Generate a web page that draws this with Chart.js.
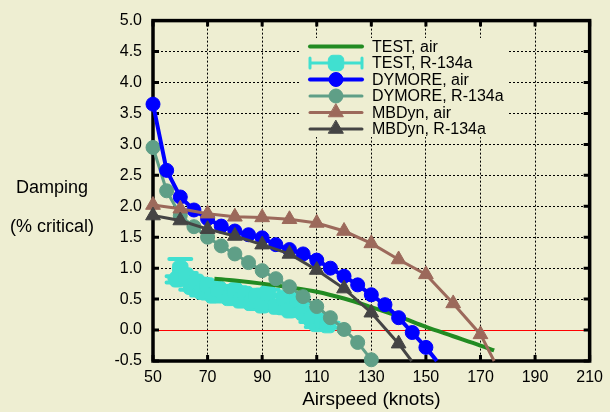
<!DOCTYPE html>
<html>
<head>
    <title>Damping vs Airspeed</title>
    <style>
        body {
            margin: 0;
            background: #eeeed2;
        }
        #chart-container {
            width: 610px;
            height: 412px;
        }
    </style>
</head>
<body>
    <script src="https://cdn.jsdelivr.net/npm/chart.js@4.4.1/dist/chart.umd.min.js"></script>
    <div id="chart-container">
        <canvas id="dampingChart"></canvas>
    </div>

    <script>
        // test data, air
        const testAirSpeed = [72.5, 80, 90, 100, 110, 120, 130, 140, 150, 160, 170, 175];
        const testAirDamping = [0.83, 0.80, 0.75, 0.69, 0.62, 0.51, 0.37, 0.22, 0.05, -0.10, -0.25, -0.33];

        // test data, R-134a (with damping error bars)
        const testR134aSpeed = [60, 59, 62, 64, 66, 68, 70, 72, 74, 76, 78, 80, 82, 84, 86, 88, 90, 92, 95, 98, 100, 103, 105, 108, 110, 112, 114];
        const testR134aDamping = [0.99, 0.82, 0.88, 0.70, 0.78, 0.62, 0.72, 0.56, 0.66, 0.60, 0.52, 0.64, 0.48, 0.58, 0.44, 0.55, 0.40, 0.60, 0.38, 0.52, 0.32, 0.48, 0.28, 0.18, 0.10, 0.15, 0.08];
        const testR134aError = [0.16, 0.05, 0.04, 0.05, 0.05, 0.06, 0.05, 0.05, 0.05, 0.05, 0.06, 0.05, 0.05, 0.05, 0.05, 0.05, 0.06, 0.05, 0.05, 0.05, 0.05, 0.05, 0.05, 0.05, 0.05, 0.05, 0.04];

        // DYMORE
        const dymoreAirSpeed = [50, 55, 60, 65, 70, 75, 80, 85, 90, 95, 100, 105, 110, 115, 120, 125, 130, 135, 140, 145, 150, 154];
        const dymoreAirDamping = [3.65, 2.58, 2.15, 1.94, 1.80, 1.68, 1.60, 1.54, 1.49, 1.38, 1.30, 1.23, 1.13, 1.00, 0.87, 0.73, 0.57, 0.41, 0.20, -0.04, -0.28, -0.5];
        const dymoreR134aSpeed = [50, 55, 60, 65, 70, 75, 80, 85, 90, 95, 100, 105, 110, 115, 120, 125, 130];
        const dymoreR134aDamping = [2.95, 2.25, 1.85, 1.67, 1.50, 1.36, 1.23, 1.09, 0.96, 0.83, 0.70, 0.54, 0.38, 0.20, 0.01, -0.20, -0.48];

        // MBDyn
        const mbdynAirSpeed = [50, 60, 70, 80, 90, 100, 110, 120, 130, 140, 150, 160, 170, 175];
        const mbdynAirDamping = [2.02, 1.96, 1.88, 1.83, 1.82, 1.79, 1.73, 1.60, 1.40, 1.14, 0.90, 0.43, -0.07, -0.5];
        const mbdynR134aSpeed = [50, 60, 70, 80, 90, 100, 110, 120, 130, 140, 144.8];
        const mbdynR134aDamping = [1.85, 1.77, 1.63, 1.52, 1.38, 1.23, 0.97, 0.67, 0.28, -0.22, -0.5];

        const seriesLabels = ['TEST, air', 'TEST, R-134a', 'DYMORE, air', 'DYMORE, R-134a', 'MBDyn, air', 'MBDyn, R-134a'];

        const BG = '#eeeed2';
        const FONT = '"Liberation Sans", Arial, sans-serif';
        Chart.defaults.font.family = FONT;
        Chart.defaults.color = '#000';

        function pts(xs, ys) {
            return xs.map((x, i) => ({ x: x, y: ys[i] }));
        }
        // no marker where the curve leaves the plot at the bottom
        function markerSize(r) {
            return ctx => (ctx.raw && ctx.raw.y <= -0.5) ? 0 : r;
        }

        const styles = [
            { color: '#228b22', width: 4, point: false },
            { color: '#40e0d0', width: 3, point: 'rectRounded', radius: 9, caps: true },
            { color: '#0000ff', width: 4, point: 'circle', radius: 7 },
            { color: '#5f9f87', width: 3, point: 'circle', radius: 7 },
            { color: '#9c695b', width: 3, point: 'triangle', radius: 8.5 },
            { color: '#444444', width: 3, point: 'triangle', radius: 8.5 }
        ];

        const isVal = (a, b) => Math.abs(a - b) < 1e-9;

        // background, box, inner ticks, zero line, error bars, legend box
        const decorations = {
            id: 'decorations',
            beforeDraw(chart) {
                const ctx = chart.ctx;
                ctx.save();
                ctx.fillStyle = BG;
                ctx.fillRect(0, 0, chart.width, chart.height);
                ctx.restore();
            },
            beforeDatasetsDraw(chart) {
                const { ctx, chartArea: a, scales: { x, y } } = chart;
                ctx.save();
                // legend background hides the grid
                ctx.fillStyle = BG;
                ctx.fillRect(301, 38, 207, 99);

                // zero line
                const y0 = Math.round(y.getPixelForValue(0)) + 0.5;
                ctx.strokeStyle = '#ff0000';
                ctx.lineWidth = 1;
                ctx.beginPath();
                ctx.moveTo(a.left, y0);
                ctx.lineTo(a.right, y0);
                ctx.stroke();

                // inner tick marks
                ctx.strokeStyle = '#000';
                ctx.lineWidth = 3;
                ctx.beginPath();
                x.ticks.forEach(t => {
                    const px = x.getPixelForValue(t.value);
                    ctx.moveTo(px, a.top); ctx.lineTo(px, a.top + 6);
                    ctx.moveTo(px, a.bottom); ctx.lineTo(px, a.bottom - 6);
                });
                y.ticks.forEach(t => {
                    const py = y.getPixelForValue(t.value);
                    ctx.moveTo(a.left, py); ctx.lineTo(a.left + 6, py);
                    ctx.moveTo(a.right, py); ctx.lineTo(a.right - 6, py);
                });
                ctx.stroke();

                // box
                ctx.lineWidth = 3.5;
                ctx.strokeRect(a.left, a.top, a.right - a.left, a.bottom - a.top);

                // error bars for the R-134a test points
                ctx.strokeStyle = styles[1].color;
                ctx.lineWidth = 4;
                ctx.lineCap = 'round';
                ctx.beginPath();
                testR134aSpeed.forEach((s, i) => {
                    const px = x.getPixelForValue(s);
                    const top = y.getPixelForValue(testR134aDamping[i] + testR134aError[i]);
                    const bot = y.getPixelForValue(testR134aDamping[i] - testR134aError[i]);
                    ctx.moveTo(px, top); ctx.lineTo(px, bot);
                    ctx.moveTo(px - 11, top); ctx.lineTo(px + 11, top);
                    ctx.moveTo(px - 11, bot); ctx.lineTo(px + 11, bot);
                });
                ctx.stroke();
                ctx.restore();
            },
            afterDatasetsDraw(chart) {
                const ctx = chart.ctx;
                ctx.save();
                // y axis title, written horizontally
                ctx.fillStyle = '#000';
                ctx.font = '18px ' + FONT;
                ctx.textAlign = 'center';
                ctx.textBaseline = 'middle';
                ctx.fillText('Damping', 52, 188);
                ctx.fillText('(% critical)', 52, 227);

                // legend
                const x1 = 310, x2 = 362, xm = 336;
                ctx.font = '16px ' + FONT;
                ctx.textAlign = 'left';
                seriesLabels.forEach((label, i) => {
                    const s = styles[i];
                    const ly = 46.5 + i * 16.5;
                    ctx.strokeStyle = s.color;
                    ctx.fillStyle = s.color;
                    ctx.lineWidth = s.width;
                    ctx.lineCap = 'round';
                    ctx.beginPath();
                    ctx.moveTo(x1, ly); ctx.lineTo(x2, ly);
                    if (s.caps) {
                        ctx.moveTo(x1, ly - 5); ctx.lineTo(x1, ly + 5);
                        ctx.moveTo(x2, ly - 5); ctx.lineTo(x2, ly + 5);
                    }
                    ctx.stroke();
                    if (s.point) {
                        ctx.lineWidth = 1;
                        Chart.helpers.drawPoint(ctx, {
                            pointStyle: s.point, radius: s.radius, borderWidth: 1, rotation: 0
                        }, xm, ly);
                    }
                    ctx.fillStyle = '#000';
                    ctx.fillText(label, 372, ly + 1);
                });
                ctx.restore();
            }
        };

        function lineSet(i, data, order, extra) {
            const s = styles[i];
            return Object.assign({
                label: seriesLabels[i],
                data: data,
                borderColor: s.color,
                backgroundColor: s.color,
                borderWidth: s.width,
                pointStyle: s.point || 'circle',
                pointRadius: s.point ? markerSize(s.radius) : 0,
                pointBorderWidth: 1,
                pointBackgroundColor: s.color,
                pointBorderColor: s.color,
                fill: false,
                clip: false,
                order: order
            }, extra || {});
        }

        const chart = new Chart('dampingChart', {
            type: 'line',
            data: {
                datasets: [
                    lineSet(5, pts(mbdynR134aSpeed, mbdynR134aDamping), 0),
                    lineSet(4, pts(mbdynAirSpeed, mbdynAirDamping), 1),
                    lineSet(2, pts(dymoreAirSpeed, dymoreAirDamping), 2),
                    lineSet(3, pts(dymoreR134aSpeed, dymoreR134aDamping), 3),
                    lineSet(0, pts(testAirSpeed, testAirDamping), 4, { cubicInterpolationMode: 'monotone' }),
                    lineSet(1, pts(testR134aSpeed, testR134aDamping), 5, { showLine: false })
                ]
            },
            options: {
                responsive: true,
                maintainAspectRatio: false,
                animation: false,
                layout: { padding: { top: 13, right: 18, left: 0, bottom: 0 } },
                plugins: {
                    legend: { display: false },
                    tooltip: { enabled: false }
                },
                scales: {
                    x: {
                        type: 'linear',
                        min: 50,
                        max: 210,
                        ticks: { stepSize: 20, font: { size: 16 }, color: '#000', padding: 7, maxRotation: 0 },
                        grid: {
                            drawTicks: false,
                            lineWidth: 1,
                            color: ctx => (isVal(ctx.tick.value, 50) || isVal(ctx.tick.value, 210)) ? 'rgba(0,0,0,0)' : '#000'
                        },
                        border: { display: false, dash: [2, 2] },
                        title: {
                            display: true,
                            text: 'Airspeed (knots)',
                            font: { size: 19 },
                            color: '#000',
                            padding: { top: 0, bottom: 1 }
                        },
                        afterFit: scale => { scale.height = 51; }
                    },
                    y: {
                        min: -0.5,
                        max: 5.0,
                        ticks: {
                            stepSize: 0.5,
                            font: { size: 16 },
                            color: '#000',
                            padding: 11,
                            callback: v => v.toFixed(1)
                        },
                        grid: {
                            drawTicks: false,
                            lineWidth: 1,
                            color: ctx => (isVal(ctx.tick.value, 0) || isVal(ctx.tick.value, 5) || isVal(ctx.tick.value, -0.5)) ? 'rgba(0,0,0,0)' : '#000'
                        },
                        border: { display: false, dash: [2, 2] },
                        afterFit: scale => { scale.width = 153; }
                    }
                }
            },
            plugins: [decorations]
        });
    </script>
</body>
</html>
